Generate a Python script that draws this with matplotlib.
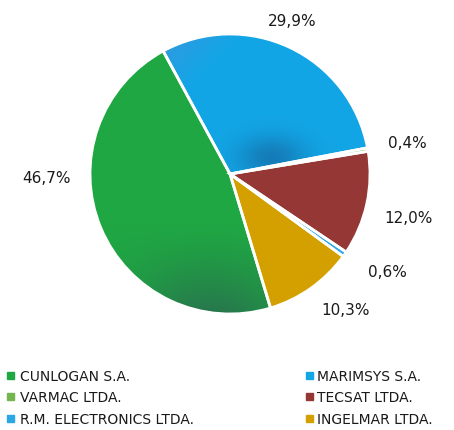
import numpy as np
import matplotlib
matplotlib.use('Agg')
import matplotlib.pyplot as plt
from matplotlib.patches import Rectangle, Wedge
from matplotlib.colors import to_rgb

plt.rcParams['font.family'] = ['DejaVu Sans']

# datos del grafico
empresas = ['CUNLOGAN S.A.', 'MARIMSYS S.A.', 'VARMAC LTDA.',
            'TECSAT LTDA.', 'R.M. ELECTRONICS LTDA.', 'INGELMAR LTDA.']
porcentajes = [46.7, 29.9, 0.4, 12.0, 0.6, 10.3]
colores = ['#1fa743', '#12a6e6', '#75b54e', '#953735', '#2aa8e4', '#d3a000']

# donde va cada etiqueta (angulo en grados, radio relativo)
pos_etiquetas = [(181, 1.31), (68, 1.18), (10, 1.29), (-13.6, 1.31),
                 (-31.7, 1.32), (-49.6, 1.27)]

fig = plt.figure(figsize=(4.54, 4.31), dpi=100)
# el eje cubre la zona de la torta, 140 px = 1 unidad
ax = fig.add_axes([0, 91 / 431, 1, 340 / 431])

inicio = 118.7 + 360 * porcentajes[0] / 100
wedges, _ = ax.pie(porcentajes, colors=colores, startangle=inicio,
                   counterclock=False, radius=1,
                   wedgeprops=dict(edgecolor='none', linewidth=0))

# sombreado tipo excel en las dos porciones grandes
n = 300
xs = np.linspace(-1, 1, n)
X, Y = np.meshgrid(xs, xs[::-1])

def mezcla(base, otro, f):
    b = np.array(to_rgb(base))
    o = np.array(to_rgb(otro))
    return b[None, None, :] * (1 - f[..., None]) + o[None, None, :] * f[..., None]

# verde: mas oscuro abajo
f_verde = np.clip((-Y - 0.35) / 0.65, 0, 1) ** 1.3 * np.exp(-((X + 0.15) ** 2) / 0.35) * 0.75
img_verde = mezcla('#1fa743', '#2a6650', f_verde)
# azul: oscuro cerca del centro, mas claro arriba a la izquierda
d = np.sqrt((X - 0.3) ** 2 + ((Y - 0.12) * 1.6) ** 2)
f_azul = np.exp(-(d ** 2) / 0.06) * 0.65
img_azul = mezcla('#12a6e6', '#1666a0', f_azul)
f_claro = np.clip(((-X) + Y - 0.9) / 0.6, 0, 1) * 0.6
img_azul = img_azul * (1 - f_claro[..., None]) + np.array(to_rgb('#4a90d9')) * f_claro[..., None]

for w, img in [(wedges[0], img_verde), (wedges[1], img_azul)]:
    im = ax.imshow(img, extent=(-1, 1, -1, 1), zorder=2, interpolation='bilinear')
    im.set_clip_path(w)

# bordes blancos encima
for w in wedges:
    ax.add_patch(Wedge(w.center, w.r, w.theta1, w.theta2, fill=False,
                       edgecolor='white', linewidth=2, zorder=3))

ax.set_xlim(-230 / 140, 224 / 140)
ax.set_ylim(-165 / 140, 175 / 140)
ax.set_aspect('auto')
ax.axis('off')

for p, (ang, r) in zip(porcentajes, pos_etiquetas):
    t = np.deg2rad(ang)
    txt = ('%.1f%%' % p).replace('.', ',')
    ax.text(r * np.cos(t), r * np.sin(t), txt, ha='center', va='center',
            fontsize=11, color='#1a1a1a')

# leyenda manual en dos columnas
filas = [377, 398, 420]
for i, (nombre, c) in enumerate(zip(empresas, colores)):
    col = i % 2
    fila = filas[i // 2]
    xm = 7 if col == 0 else 306
    xt = 20 if col == 0 else 317
    fig.patches.append(Rectangle((xm / 454, 1 - (fila + 3) / 431), 7 / 454, 7 / 431,
                                 transform=fig.transFigure, color=c))
    fig.text(xt / 454, 1 - fila / 431, nombre, ha='left', va='center',
             fontsize=10, color='#1a1a1a')

fig.savefig('out.png', dpi=100)
